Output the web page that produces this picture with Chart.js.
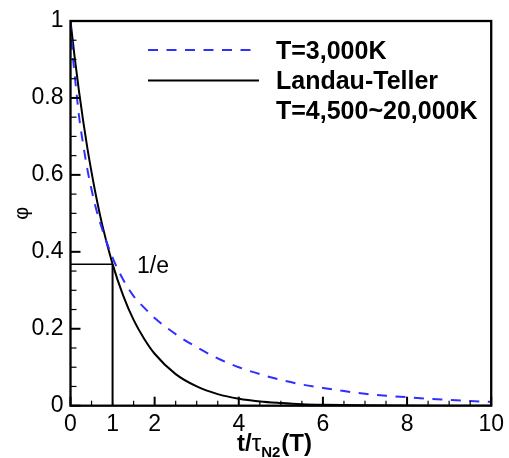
<!DOCTYPE html>
<html>
<head>
<meta charset="utf-8">
<script src="https://cdn.jsdelivr.net/npm/chart.js@4/dist/chart.umd.min.js"></script>
<style>
  html, body { margin: 0; padding: 0; background: #fff; }
  #wrap { width: 509px; height: 458px; }
</style>
</head>
<body>
<div id="wrap"><canvas id="c" width="509" height="458"></canvas></div>
<script>
// Relaxation curves phi(t/tau)
const tT3000   = [0, 0.05, 0.1, 0.2, 0.3, 0.4, 0.5, 0.6, 0.75, 1.0, 1.25, 1.5, 1.75, 2.0, 2.5, 3.0, 3.5, 4.0, 4.5, 5.0, 5.5, 6.0, 6.5, 7.0, 7.5, 8.0, 8.5, 9.0, 9.5, 10];
const phiT3000 = [1.0, 0.915, 0.86, 0.755, 0.68, 0.615, 0.562, 0.515, 0.46, 0.385, 0.328, 0.285, 0.255, 0.228, 0.186, 0.152, 0.123, 0.100, 0.082, 0.067, 0.055, 0.046, 0.038, 0.031, 0.026, 0.022, 0.018, 0.015, 0.012, 0.010];

const tLT   = [0, 0.1, 0.2, 0.3, 0.4, 0.5, 0.6, 0.75, 1.0, 1.25, 1.5, 1.75, 2.0, 2.5, 3.0, 3.5, 4.0, 4.5, 5.0, 5.5, 6.0, 7.0, 8.0, 9.0, 10];
const phiLT = [1.0, 0.905, 0.819, 0.741, 0.670, 0.607, 0.549, 0.472, 0.368, 0.287, 0.223, 0.174, 0.135, 0.082, 0.050, 0.030, 0.018, 0.011, 0.007, 0.004, 0.0025, 0.001, 0.0003, 0.0001, 0.00005];

// 1/e guide: phi = 0.368 reached at t/tau = 1
const tGuide   = [0, 1, 1];
const phiGuide = [0.368, 0.368, 0];

const xTickValues = [0, 1, 2, 4, 6, 8, 10];
const yTickValues = [0, 0.2, 0.4, 0.6, 0.8, 1];
const yTickLabels = ['0', '0.2', '0.4', '0.6', '0.8', '1'];

const legendLabels = ['T=3,000K', 'Landau-Teller', 'T=4,500~20,000K'];

const FONT = "'Liberation Sans', Arial, Helvetica, sans-serif";
const BLUE = '#2f2fff';

const pts = (xs, ys) => xs.map((x, i) => ({ x: x, y: ys[i] }));

// inward tick marks, frame, legend, annotation and axis title
const decor = {
  id: 'decor',
  afterDraw(chart) {
    const ctx = chart.ctx;
    const xs = chart.scales.x, ys = chart.scales.y;
    const a = chart.chartArea;
    ctx.save();
    ctx.strokeStyle = '#000';

    // x ticks every 0.5, long at even values
    for (let i = 0; i <= 20; i++) {
      const v = i / 2;
      const major = i % 4 === 0;
      const px = xs.getPixelForValue(v);
      ctx.lineWidth = major ? 2 : 1.2;
      ctx.beginPath();
      ctx.moveTo(px, a.bottom);
      ctx.lineTo(px, a.bottom - (major ? 9 : 5));
      ctx.stroke();
    }
    // y ticks every 0.05, long at multiples of 0.2
    for (let i = 0; i <= 20; i++) {
      const v = i / 20;
      const major = i % 4 === 0;
      const py = ys.getPixelForValue(v);
      ctx.lineWidth = major ? 2 : 1.2;
      ctx.beginPath();
      ctx.moveTo(a.left, py);
      ctx.lineTo(a.left + (major ? 10 : 6), py);
      ctx.stroke();
    }

    // frame
    ctx.lineWidth = 2.3;
    ctx.strokeRect(a.left, a.top, a.right - a.left, a.bottom - a.top);

    // 1/e annotation
    ctx.fillStyle = '#000';
    ctx.font = '23px ' + FONT;
    ctx.textAlign = 'left';
    ctx.textBaseline = 'alphabetic';
    ctx.fillText('1/e', xs.getPixelForValue(1.58), ys.getPixelForValue(0.345));

    // legend
    const lx0 = 148, lx1 = 259, tx = 276;
    ctx.lineWidth = 2;
    ctx.strokeStyle = BLUE;
    ctx.setLineDash([10, 8.5]);
    ctx.beginPath(); ctx.moveTo(lx0, 50); ctx.lineTo(lx1, 50); ctx.stroke();
    ctx.setLineDash([]);
    ctx.strokeStyle = '#000';
    ctx.beginPath(); ctx.moveTo(lx0, 80.5); ctx.lineTo(lx1, 80.5); ctx.stroke();
    ctx.font = 'bold 25px ' + FONT;
    ctx.fillText(legendLabels[0], tx, 59);
    ctx.fillText(legendLabels[1], tx, 89);
    ctx.fillText(legendLabels[2], tx, 119);

    // x-axis title: t/τN2(T)
    let x = 237;
    const base = 451;
    ctx.font = 'bold 24px ' + FONT;
    ctx.fillText('t/', x, base); x += ctx.measureText('t/').width;
    ctx.font = '24px ' + FONT;
    ctx.fillText('τ', x, base); x += ctx.measureText('τ').width;
    ctx.font = 'bold 15px ' + FONT;
    ctx.fillText('N2', x, base + 6); x += ctx.measureText('N2').width + 1;
    ctx.font = 'bold 24px ' + FONT;
    ctx.fillText('(T)', x, base);

    ctx.restore();
  }
};

new Chart(document.getElementById('c'), {
  type: 'line',
  data: {
    datasets: [
      {
        label: legendLabels[0],
        data: pts(tT3000, phiT3000),
        borderColor: BLUE,
        borderWidth: 2,
        borderDash: [10, 8.5],
        pointRadius: 0,
        fill: false,
        cubicInterpolationMode: 'monotone'
      },
      {
        label: legendLabels[1],
        data: pts(tLT, phiLT),
        borderColor: '#000',
        borderWidth: 2,
        pointRadius: 0,
        fill: false,
        cubicInterpolationMode: 'monotone'
      },
      {
        label: '1/e',
        data: pts(tGuide, phiGuide),
        borderColor: '#000',
        borderWidth: 2,
        segment: { borderWidth: c => (c.p0DataIndex === 0 ? 1.5 : 2) },
        pointRadius: 0,
        tension: 0,
        fill: false
      }
    ]
  },
  options: {
    responsive: false,
    animation: false,
    devicePixelRatio: 1,
    layout: { padding: { top: 21, right: 16.5, left: 0, bottom: 0 } },
    plugins: { legend: { display: false }, tooltip: { enabled: false } },
    scales: {
      x: {
        type: 'linear',
        min: 0,
        max: 10,
        afterBuildTicks: s => { s.ticks = xTickValues.map(v => ({ value: v })); },
        afterFit: s => { s.height = 52.3; },
        grid: { display: false, drawTicks: false },
        border: { display: false },
        ticks: {
          autoSkip: false,
          maxRotation: 0,
          padding: 5,
          color: '#000',
          font: { family: FONT, size: 23 },
          callback: v => String(v)
        }
      },
      y: {
        type: 'linear',
        min: 0,
        max: 1,
        afterBuildTicks: s => { s.ticks = yTickValues.map(v => ({ value: v })); },
        afterFit: s => { s.width = 70.5; },
        grid: { display: false, drawTicks: false },
        border: { display: false },
        ticks: {
          autoSkip: false,
          padding: 7,
          color: '#000',
          font: { family: FONT, size: 23 },
          callback: (v, i) => yTickLabels[i]
        },
        title: {
          display: true,
          text: 'φ',
          color: '#000',
          font: { family: FONT, size: 20 },
          padding: { top: 10, bottom: 0 }
        }
      }
    }
  },
  plugins: [decor]
});
</script>
</body>
</html>
